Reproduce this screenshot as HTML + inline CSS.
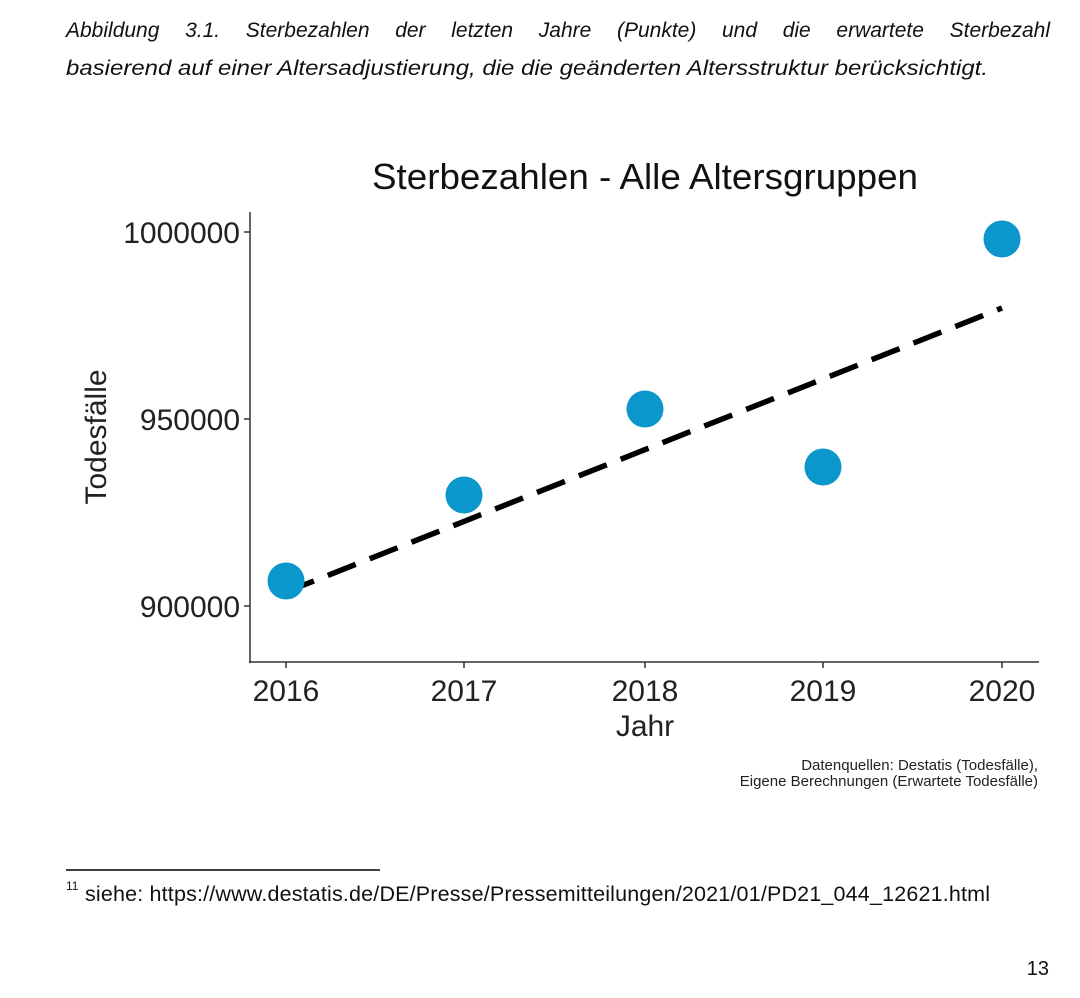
<!DOCTYPE html>
<html><head><meta charset="utf-8"><style>
body{margin:0;background:#fff;width:1080px;height:998px;overflow:hidden;font-family:"Liberation Sans",sans-serif;}
.cap{position:absolute;left:66px;width:984px;font-style:italic;font-size:21px;color:#111;line-height:36px;top:13px;text-align:justify;text-align-last:justify;white-space:nowrap}
</style></head><body>
<div class="cap">Abbildung 3.1. Sterbezahlen der letzten Jahre (Punkte) und die erwartete Sterbezahl</div>
<svg width="1080" height="998" style="position:absolute;left:0;top:0" font-family="Liberation Sans, sans-serif">
<g font-style="italic" font-size="21" fill="#111">
<text x="66" y="75" textLength="922" lengthAdjust="spacingAndGlyphs">basierend auf einer Altersadjustierung, die die geänderten Altersstruktur berücksichtigt.</text>
</g>
<text x="645" y="189" font-size="36" text-anchor="middle" fill="#111" textLength="546" lengthAdjust="spacingAndGlyphs">Sterbezahlen - Alle Altersgruppen</text>
<line x1="250" y1="212" x2="250" y2="663" stroke="#333" stroke-width="1.5"/>
<line x1="249" y1="662" x2="1039" y2="662" stroke="#333" stroke-width="1.5"/>
<g stroke="#333" stroke-width="1.5">
<line x1="244" y1="232" x2="250" y2="232"/><line x1="244" y1="419" x2="250" y2="419"/><line x1="244" y1="606" x2="250" y2="606"/>
<line x1="286" y1="662" x2="286" y2="668"/><line x1="464" y1="662" x2="464" y2="668"/><line x1="645" y1="662" x2="645" y2="668"/><line x1="823" y1="662" x2="823" y2="668"/><line x1="1002" y1="662" x2="1002" y2="668"/>
</g>
<g font-size="30" fill="#222" text-anchor="end">
<text x="240" y="243">1000000</text><text x="240" y="430">950000</text><text x="240" y="617">900000</text>
</g>
<g font-size="30" fill="#222" text-anchor="middle">
<text x="286" y="701">2016</text><text x="464" y="701">2017</text><text x="645" y="701">2018</text><text x="823" y="701">2019</text><text x="1002" y="701">2020</text>
<text x="645" y="736">Jahr</text>
<text transform="translate(106,437) rotate(-90)">Todesfälle</text>
</g>
<line x1="286" y1="592" x2="1002" y2="308" stroke="#000" stroke-width="5.5" stroke-dasharray="30,15"/>
<g fill="#0b97cc">
<circle cx="286" cy="581" r="18.5"/><circle cx="464" cy="495" r="18.5"/><circle cx="645" cy="409" r="18.5"/><circle cx="823" cy="467" r="18.5"/><circle cx="1002" cy="239" r="18.5"/>
</g>
<g font-size="15" fill="#222" text-anchor="end">
<text x="1038" y="770">Datenquellen: Destatis (Todesfälle),</text>
<text x="1038" y="786">Eigene Berechnungen (Erwartete Todesfälle)</text>
</g>
<line x1="66" y1="870" x2="380" y2="870" stroke="#000" stroke-width="1.5"/>
<text x="66" y="890" font-size="12" fill="#111">11</text>
<text x="85" y="901" font-size="21.5" fill="#111" textLength="905">siehe: https://www.destatis.de/DE/Presse/Pressemitteilungen/2021/01/PD21_044_12621.html</text>
<text x="1049" y="975" font-size="20" fill="#111" text-anchor="end">13</text>
</svg>
</body></html>
